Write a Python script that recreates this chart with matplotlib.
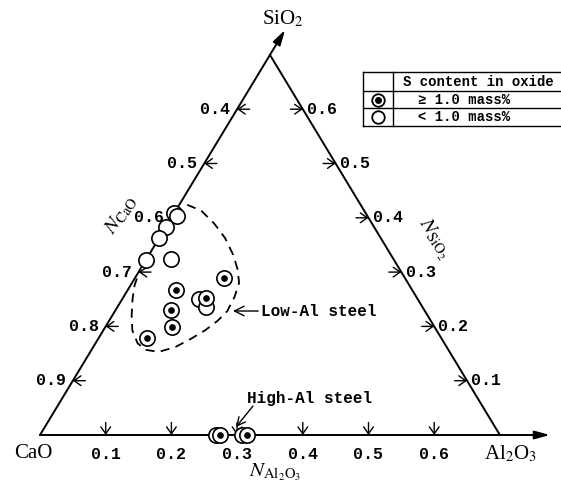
import numpy as np
import matplotlib
matplotlib.use('Agg')
import matplotlib.pyplot as plt

plt.rcParams['mathtext.fontset'] = 'stix'

W, H = 561, 483
SPAN = 0.7  # the diagram only covers N_CaO >= 0.3

# mole fractions: (N_Al2O3, N_SiO2), N_CaO = 1 - both
# S content >= 1.0 mass%  (circle with dot)
HIGH_S_AL = [0.135, 0.073, 0.126, 0.085, 0.101, 0.073, 0.274, 0.315]
HIGH_S_SI = [0.289, 0.267, 0.252, 0.230, 0.199, 0.179, 0.0, 0.0]
# S content < 1.0 mass%  (open circle)
LOW_S_AL = [0.0, 0.007, 0.0, 0.0, 0.0, 0.037, 0.116, 0.134, 0.268, 0.307]
LOW_S_SI = [0.409, 0.403, 0.383, 0.363, 0.322, 0.324, 0.251, 0.236, 0.0, 0.0]

# dashed boundary around the low-Al steel inclusions
REGION_AL = [0.012, 0.039, 0.071, 0.100, 0.128, 0.149, 0.163, 0.169, 0.171,
             0.165, 0.155, 0.141, 0.125, 0.104, 0.082, 0.064, 0.044, 0.029,
             0.015, 0.006, 0.002]
REGION_SI = [0.424, 0.413, 0.389, 0.363, 0.332, 0.304, 0.280, 0.254, 0.228,
             0.210, 0.193, 0.177, 0.162, 0.153, 0.157, 0.169, 0.193, 0.221,
             0.252, 0.276, 0.295]

CAO_TICKS = [0.4, 0.5, 0.6, 0.7, 0.8, 0.9]
SIO2_TICKS = [0.1, 0.2, 0.3, 0.4, 0.5, 0.6]
AL2O3_TICKS = [0.1, 0.2, 0.3, 0.4, 0.5, 0.6]

MONO = ['Liberation Mono', 'DejaVu Sans Mono']
SERIF = ['Liberation Serif', 'DejaVu Serif']


def tern(al, si):
    al = np.asarray(al, dtype=float)
    si = np.asarray(si, dtype=float)
    return al + si / 2, si * np.sqrt(3) / 2


def fxy(px, py):
    # pixel position -> figure fraction
    return px / W, 1 - py / H


fig = plt.figure(figsize=(W / 100, H / 100), dpi=100)
ax = fig.add_axes([0, 0, 1, 1])
ax.set_xlim(-40 / 657, 521 / 657)
ax.set_ylim(-48 / 627, 435 / 627)
ax.axis('off')

# triangle sides, two of them with arrows past the corners
arrow_kw = dict(arrowstyle='-|>,head_length=0.9,head_width=0.25', lw=1.4,
                color='black', shrinkA=0, shrinkB=0)
ax.annotate('', xy=tern(0, 0.746), xytext=tern(0, 0), arrowprops=arrow_kw)
ax.annotate('', xy=tern(0.776, 0), xytext=tern(0, 0), arrowprops=arrow_kw)
x, y = tern([0, SPAN], [SPAN, 0])
ax.plot(x, y, color='black', lw=1.4)

tick_kw = dict(arrowstyle='->,head_length=0.5,head_width=0.35', lw=1.0,
               color='black', shrinkA=0, shrinkB=0)
lab_kw = dict(fontsize=12, family=MONO, fontweight='bold')
for v in CAO_TICKS:
    p = tern(0, 1 - v)
    ax.annotate('', xy=p, xytext=(9, 0), textcoords='offset points',
                arrowprops=tick_kw)
    ax.annotate(f'{v:.1f}', xy=p, xytext=(-5, 0), textcoords='offset points',
                ha='right', va='center', **lab_kw)
for v in SIO2_TICKS:
    p = tern(SPAN - v, v)
    ax.annotate('', xy=p, xytext=(-9, 0), textcoords='offset points',
                arrowprops=tick_kw)
    ax.annotate(f'{v:.1f}', xy=p, xytext=(3, 0), textcoords='offset points',
                ha='left', va='center', **lab_kw)
for v in AL2O3_TICKS:
    p = tern(v, 0)
    ax.annotate('', xy=p, xytext=(0, 9), textcoords='offset points',
                arrowprops=tick_kw)
    ax.annotate(f'{v:.1f}', xy=p, xytext=(0, -14), textcoords='offset points',
                ha='center', va='center', **lab_kw)

# corner and axis names
fig.text(*fxy(33, 454), 'CaO', ha='center', va='center', fontsize=15,
         family=SERIF)
fig.text(*fxy(511, 454), 'Al$_2$O$_3$', ha='center', va='center',
         fontsize=15, family=SERIF)
fig.text(*fxy(283, 19), 'SiO$_2$', ha='center', va='center', fontsize=15,
         family=SERIF)
fig.text(*fxy(275, 472), r'$N_{\mathrm{Al_2O_3}}$', ha='center',
         va='center', fontsize=15)
fig.text(*fxy(121, 215), r'$N_{\mathrm{CaO}}$', ha='center', va='center',
         fontsize=15, rotation=55)
fig.text(*fxy(434, 239), r'$N_{\mathrm{SiO_2}}$', ha='center', va='center',
         fontsize=15, rotation=-57)

# dashed region
x, y = tern(REGION_AL, REGION_SI)
ax.plot(x, y, color='black', lw=1.3, ls=(0, (5, 3.5)))

# data points
x, y = tern(LOW_S_AL, LOW_S_SI)
ax.plot(x, y, 'o', ms=11, mfc='white', mec='black', mew=1.2, zorder=5)
x, y = tern(HIGH_S_AL, HIGH_S_SI)
ax.plot(x, y, 'o', ms=11, mfc='white', mec='black', mew=1.2, zorder=6)
ax.plot(x, y, 'o', ms=3.8, mfc='black', mec='black', zorder=7)

# region labels
note_kw = dict(arrowstyle='->,head_length=0.6,head_width=0.3', lw=1.0,
               color='black', shrinkA=0, shrinkB=0)
ax.annotate('Low-Al steel', xy=fxy(233, 311), xycoords='figure fraction',
            xytext=fxy(261, 311), textcoords='figure fraction',
            ha='left', va='center', fontsize=11.5, family=MONO,
            fontweight='bold', arrowprops=note_kw)
ax.annotate('', xy=fxy(236, 427), xycoords='figure fraction',
            xytext=fxy(253, 406), textcoords='figure fraction',
            arrowprops=note_kw)
fig.text(*fxy(310, 398), 'High-Al steel', ha='center', va='center',
         fontsize=11.5, family=MONO, fontweight='bold')

# legend table (runs off the right edge like the original)
left, mid, right = 363, 393, 565
rows = [72, 91, 108, 126]
for r in rows:
    fig.add_artist(plt.Line2D([left / W, right / W], [1 - r / H] * 2,
                              transform=fig.transFigure, color='black',
                              lw=1.0))
for c in (left, mid):
    fig.add_artist(plt.Line2D([c / W] * 2, [1 - rows[0] / H, 1 - rows[-1] / H],
                              transform=fig.transFigure, color='black',
                              lw=1.0))
fig.text(*fxy(403, 81.5), 'S content in oxide', ha='left', va='center',
         fontsize=10, family=MONO, fontweight='bold')
fig.text(*fxy(418, 99.5), '\u2265 1.0 mass%', ha='left', va='center',
         fontsize=10, family=MONO, fontweight='bold')
fig.text(*fxy(418, 117), '< 1.0 mass%', ha='left', va='center',
         fontsize=10, family=MONO, fontweight='bold')
lx, ly1 = fxy(378, 99.5)
_, ly2 = fxy(378, 117)
fig.add_artist(plt.Line2D([lx], [ly1], marker='o', ms=9, mfc='white',
                          mec='black', mew=1.3, transform=fig.transFigure))
fig.add_artist(plt.Line2D([lx], [ly1], marker='o', ms=4, mfc='black',
                          mec='black', transform=fig.transFigure))
fig.add_artist(plt.Line2D([lx], [ly2], marker='o', ms=9, mfc='white',
                          mec='black', mew=1.3, transform=fig.transFigure))

fig.savefig('out.png', dpi=100)
